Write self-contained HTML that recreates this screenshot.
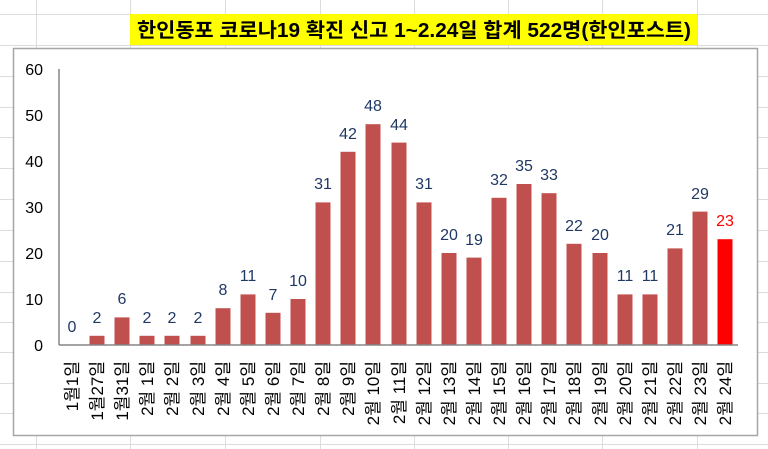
<!DOCTYPE html>
<html><head><meta charset="utf-8"><style>
body{margin:0;background:#fff;}
svg{display:block;font-family:"Liberation Sans","Noto Sans CJK KR",sans-serif;}
</style></head><body>
<svg width="768" height="449" viewBox="0 0 768 449" xmlns="http://www.w3.org/2000/svg">
<g stroke="#dcdcdc" stroke-width="1">
<line x1="36.5" y1="0" x2="36.5" y2="449"/><line x1="130.5" y1="0" x2="130.5" y2="449"/><line x1="225.5" y1="0" x2="225.5" y2="449"/><line x1="320.5" y1="0" x2="320.5" y2="449"/><line x1="414.5" y1="0" x2="414.5" y2="449"/><line x1="508.5" y1="0" x2="508.5" y2="449"/><line x1="602.5" y1="0" x2="602.5" y2="449"/><line x1="697.5" y1="0" x2="697.5" y2="449"/>
<line x1="0" y1="14.5" x2="768" y2="14.5"/><line x1="0" y1="45.5" x2="768" y2="45.5"/><line x1="0" y1="76.5" x2="768" y2="76.5"/><line x1="0" y1="107.5" x2="768" y2="107.5"/><line x1="0" y1="137.5" x2="768" y2="137.5"/><line x1="0" y1="168.5" x2="768" y2="168.5"/><line x1="0" y1="199.5" x2="768" y2="199.5"/><line x1="0" y1="230.5" x2="768" y2="230.5"/><line x1="0" y1="261.5" x2="768" y2="261.5"/><line x1="0" y1="292.5" x2="768" y2="292.5"/><line x1="0" y1="322.5" x2="768" y2="322.5"/><line x1="0" y1="352.5" x2="768" y2="352.5"/><line x1="0" y1="383.5" x2="768" y2="383.5"/><line x1="0" y1="413.5" x2="768" y2="413.5"/><line x1="0" y1="444.5" x2="768" y2="444.5"/>
</g>
<rect x="130" y="14" width="567" height="31" fill="#ffff00"/>
<text x="137" y="37" font-size="20" font-weight="bold" textLength="554" lengthAdjust="spacingAndGlyphs">한인동포 코로나19 확진 신고 1~2.24일 합계 522명(한인포스트)</text>
<rect x="13.5" y="48.5" width="744" height="387" fill="#fff" stroke="#a6a6a6" stroke-width="1.5"/>
<g font-size="16" fill="#000" text-anchor="end">
<text x="43" y="75">60</text><text x="43" y="121">50</text><text x="43" y="167">40</text><text x="43" y="213">30</text><text x="43" y="259">20</text><text x="43" y="305">10</text><text x="43" y="351">0</text>
</g>
<line x1="59" y1="69" x2="59" y2="345" stroke="#868686" stroke-width="1.5"/>
<g fill="#c0504d">
<rect x="89.5" y="335.8" width="15" height="9.2"/>
<rect x="114.5" y="317.4" width="15" height="27.6"/>
<rect x="139.5" y="335.8" width="15" height="9.2"/>
<rect x="164.5" y="335.8" width="15" height="9.2"/>
<rect x="190.5" y="335.8" width="15" height="9.2"/>
<rect x="215.5" y="308.2" width="15" height="36.8"/>
<rect x="240.5" y="294.4" width="15" height="50.6"/>
<rect x="265.5" y="312.8" width="15" height="32.2"/>
<rect x="290.5" y="299" width="15" height="46"/>
<rect x="315.5" y="202.4" width="15" height="142.6"/>
<rect x="340.5" y="151.8" width="15" height="193.2"/>
<rect x="365.5" y="124.2" width="15" height="220.8"/>
<rect x="391.5" y="142.6" width="15" height="202.4"/>
<rect x="416.5" y="202.4" width="15" height="142.6"/>
<rect x="441.5" y="253" width="15" height="92"/>
<rect x="466.5" y="257.6" width="15" height="87.4"/>
<rect x="491.5" y="197.8" width="15" height="147.2"/>
<rect x="516.5" y="184" width="15" height="161"/>
<rect x="541.5" y="193.2" width="15" height="151.8"/>
<rect x="566.5" y="243.8" width="15" height="101.2"/>
<rect x="592.5" y="253" width="15" height="92"/>
<rect x="617.5" y="294.4" width="15" height="50.6"/>
<rect x="642.5" y="294.4" width="15" height="50.6"/>
<rect x="667.5" y="248.4" width="15" height="96.6"/>
<rect x="692.5" y="211.6" width="15" height="133.4"/>
</g>
<rect x="717.5" y="239.2" width="15" height="105.8" fill="#ff0000"/>
<line x1="59" y1="345" x2="738" y2="345" stroke="#868686" stroke-width="1.5"/>
<g font-size="16" text-anchor="middle" fill="#1f3864">
<text x="72" y="332">0</text>
<text x="97" y="323">2</text>
<text x="122" y="304">6</text>
<text x="147" y="323">2</text>
<text x="172" y="323">2</text>
<text x="198" y="323">2</text>
<text x="223" y="295">8</text>
<text x="248" y="281">11</text>
<text x="273" y="300">7</text>
<text x="298" y="286">10</text>
<text x="323" y="189">31</text>
<text x="348" y="139">42</text>
<text x="373" y="111">48</text>
<text x="399" y="130">44</text>
<text x="424" y="189">31</text>
<text x="449" y="240">20</text>
<text x="474" y="245">19</text>
<text x="499" y="185">32</text>
<text x="524" y="171">35</text>
<text x="549" y="180">33</text>
<text x="574" y="231">22</text>
<text x="600" y="240">20</text>
<text x="625" y="281">11</text>
<text x="650" y="281">11</text>
<text x="675" y="235">21</text>
<text x="700" y="199">29</text>
<text x="725" y="226" fill="#ff0000">23</text>
</g>
<g font-size="17" text-anchor="end" fill="#000">
<text transform="translate(78,361) rotate(-90)">1월1일</text>
<text transform="translate(103,361) rotate(-90)">1월27일</text>
<text transform="translate(128,361) rotate(-90)">1월31일</text>
<text transform="translate(153,361) rotate(-90)">2월 1일</text>
<text transform="translate(178,361) rotate(-90)">2월 2일</text>
<text transform="translate(204,361) rotate(-90)">2월 3일</text>
<text transform="translate(229,361) rotate(-90)">2월 4일</text>
<text transform="translate(254,361) rotate(-90)">2월 5일</text>
<text transform="translate(279,361) rotate(-90)">2월 6일</text>
<text transform="translate(304,361) rotate(-90)">2월 7일</text>
<text transform="translate(329,361) rotate(-90)">2월 8일</text>
<text transform="translate(354,361) rotate(-90)">2월 9일</text>
<text transform="translate(379,361) rotate(-90)">2월 10일</text>
<text transform="translate(405,361) rotate(-90)">2월 11일</text>
<text transform="translate(430,361) rotate(-90)">2월 12일</text>
<text transform="translate(455,361) rotate(-90)">2월 13일</text>
<text transform="translate(480,361) rotate(-90)">2월 14일</text>
<text transform="translate(505,361) rotate(-90)">2월 15일</text>
<text transform="translate(530,361) rotate(-90)">2월 16일</text>
<text transform="translate(555,361) rotate(-90)">2월 17일</text>
<text transform="translate(580,361) rotate(-90)">2월 18일</text>
<text transform="translate(606,361) rotate(-90)">2월 19일</text>
<text transform="translate(631,361) rotate(-90)">2월 20일</text>
<text transform="translate(656,361) rotate(-90)">2월 21일</text>
<text transform="translate(681,361) rotate(-90)">2월 22일</text>
<text transform="translate(706,361) rotate(-90)">2월 23일</text>
<text transform="translate(731,361) rotate(-90)">2월 24일</text>
</g>
</svg>
</body></html>
